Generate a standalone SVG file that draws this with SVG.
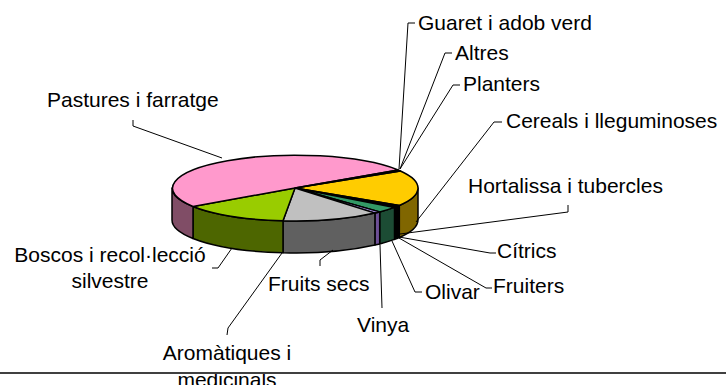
<svg xmlns="http://www.w3.org/2000/svg" width="726" height="385" viewBox="0 0 726 385">
<style>
  .s{stroke:#000;stroke-width:1.5;stroke-linejoin:round}
  .l{fill:none;stroke:#000;stroke-width:1}
  text{font-family:"Liberation Sans",Arial,sans-serif;font-size:21px;fill:#000}
</style>
<rect width="726" height="385" fill="#fff"/>
<g id="pie">
  <g id="slice-cereals">
    <path class="s" fill="#806600" d="M418,188 A123,33 0 0,1 399.3,205.5 L399.3,237.5 A123,33 0 0,0 418,220 Z"/>
    <path class="s" fill="#FFCC00" d="M295,188 L400.4,171 A123,33 0 0,1 399.3,205.5 Z"/>
  </g>
  <g id="slice-hortalissa">
    <path class="s" fill="#000" d="M399.3,205.5 A123,33 0 0,1 394.5,207.4 L394.5,239.4 A123,33 0 0,0 399.3,237.5 Z"/>
    <path class="s" fill="#000" d="M295,188 L399.3,205.5 A123,33 0 0,1 394.5,207.4 Z"/>
  </g>
  <g id="slice-olivar">
    <path class="s" fill="#1C4C34" d="M394.5,207.4 A123,33 0 0,1 379.7,211.9 L379.7,243.9 A123,33 0 0,0 394.5,239.4 Z"/>
    <path class="s" fill="#339966" d="M295,188 L394.5,207.4 A123,33 0 0,1 379.7,211.9 Z"/>
  </g>
  <g id="slice-vinya">
    <path class="s" fill="#6E5096" d="M379.7,211.9 A123,33 0 0,1 374.9,213.1 L374.9,245.1 A123,33 0 0,0 379.7,243.9 Z"/>
    <path class="s" fill="#A38BE0" d="M295,188 L379.7,211.9 A123,33 0 0,1 374.9,213.1 Z"/>
  </g>
  <g id="slice-fruits-secs">
    <path class="s" fill="#606060" d="M374.9,213.1 A123,33 0 0,1 283,220.8 L283,252.8 A123,33 0 0,0 374.9,245.1 Z"/>
    <path class="s" fill="#C0C0C0" d="M295,188 L374.9,213.1 A123,33 0 0,1 283,220.8 Z"/>
  </g>
  <g id="slice-boscos">
    <path class="s" fill="#4D6600" d="M283,220.8 A123,33 0 0,1 193,206.5 L193,238.5 A123,33 0 0,0 283,252.8 Z"/>
    <path class="s" fill="#99CC00" d="M295,188 L283,220.8 A123,33 0 0,1 193,206.5 Z"/>
  </g>
  <g id="slice-pastures">
    <path class="s" fill="#804D66" d="M193,206.5 A123,33 0 0,1 172,188 L172,220 A123,33 0 0,0 193,238.5 Z"/>
    <path class="s" fill="#FF99CC" d="M295,188 L193,206.5 A123,33 0 1,1 398.2,170 Z"/>
  </g>
  <g id="slice-guaret">
    <path class="s" fill="#993300" stroke-width="0.8" d="M295,188 L398.2,170 A123,33 0 0,1 400.4,171 Z"/>
  </g>
</g>
<g id="connectors">
  <polyline class="l" points="415,23 408,23 399,169"/>
  <polyline class="l" points="452,53 445,53 400,169"/>
  <polyline class="l" points="460,85 453,85 400,169"/>
  <polyline class="l" points="502,122 494,122 416,222"/>
  <polyline class="l" points="568,205 568,212 400,234"/>
  <polyline class="l" points="496,253 490,253 399,237"/>
  <polyline class="l" points="492,288 486,288 399,238"/>
  <polyline class="l" points="422,292 415,292 392,241"/>
  <polyline class="l" points="382,308 380,245"/>
  <polyline class="l" points="320,266 320,260 333,250"/>
  <polyline class="l" points="227,335 228,328 282,253"/>
  <polyline class="l" points="212,268 218,268 232,248"/>
  <polyline class="l" points="133,120 133,126 222,158"/>
</g>
<g id="label-guaret"><text x="418" y="30">Guaret i adob verd</text></g>
<g id="label-altres"><text x="455" y="60">Altres</text></g>
<g id="label-planters"><text x="463" y="91">Planters</text></g>
<g id="label-cereals"><text x="506" y="128">Cereals i lleguminoses</text></g>
<g id="label-hortalissa"><text x="468" y="193">Hortalissa i tubercles</text></g>
<g id="label-citrics"><text x="497" y="258">Cítrics</text></g>
<g id="label-fruiters"><text x="493" y="293">Fruiters</text></g>
<g id="label-olivar"><text x="425" y="299">Olivar</text></g>
<g id="label-vinya"><text x="357" y="332">Vinya</text></g>
<g id="label-fruits-secs"><text x="268" y="291">Fruits secs</text></g>
<g id="label-pastures"><text x="47" y="107">Pastures i farratge</text></g>
<g id="label-boscos"><text x="110" y="262" text-anchor="middle">Boscos i recol·lecció</text><text x="110" y="288" text-anchor="middle">silvestre</text></g>
<g id="label-aromatiques"><text x="227" y="360" text-anchor="middle">Aromàtiques i</text><text x="227" y="387" text-anchor="middle">medicinals</text></g>
<line x1="0" y1="373" x2="726" y2="373" stroke="#404040" stroke-width="2"/>
</svg>
